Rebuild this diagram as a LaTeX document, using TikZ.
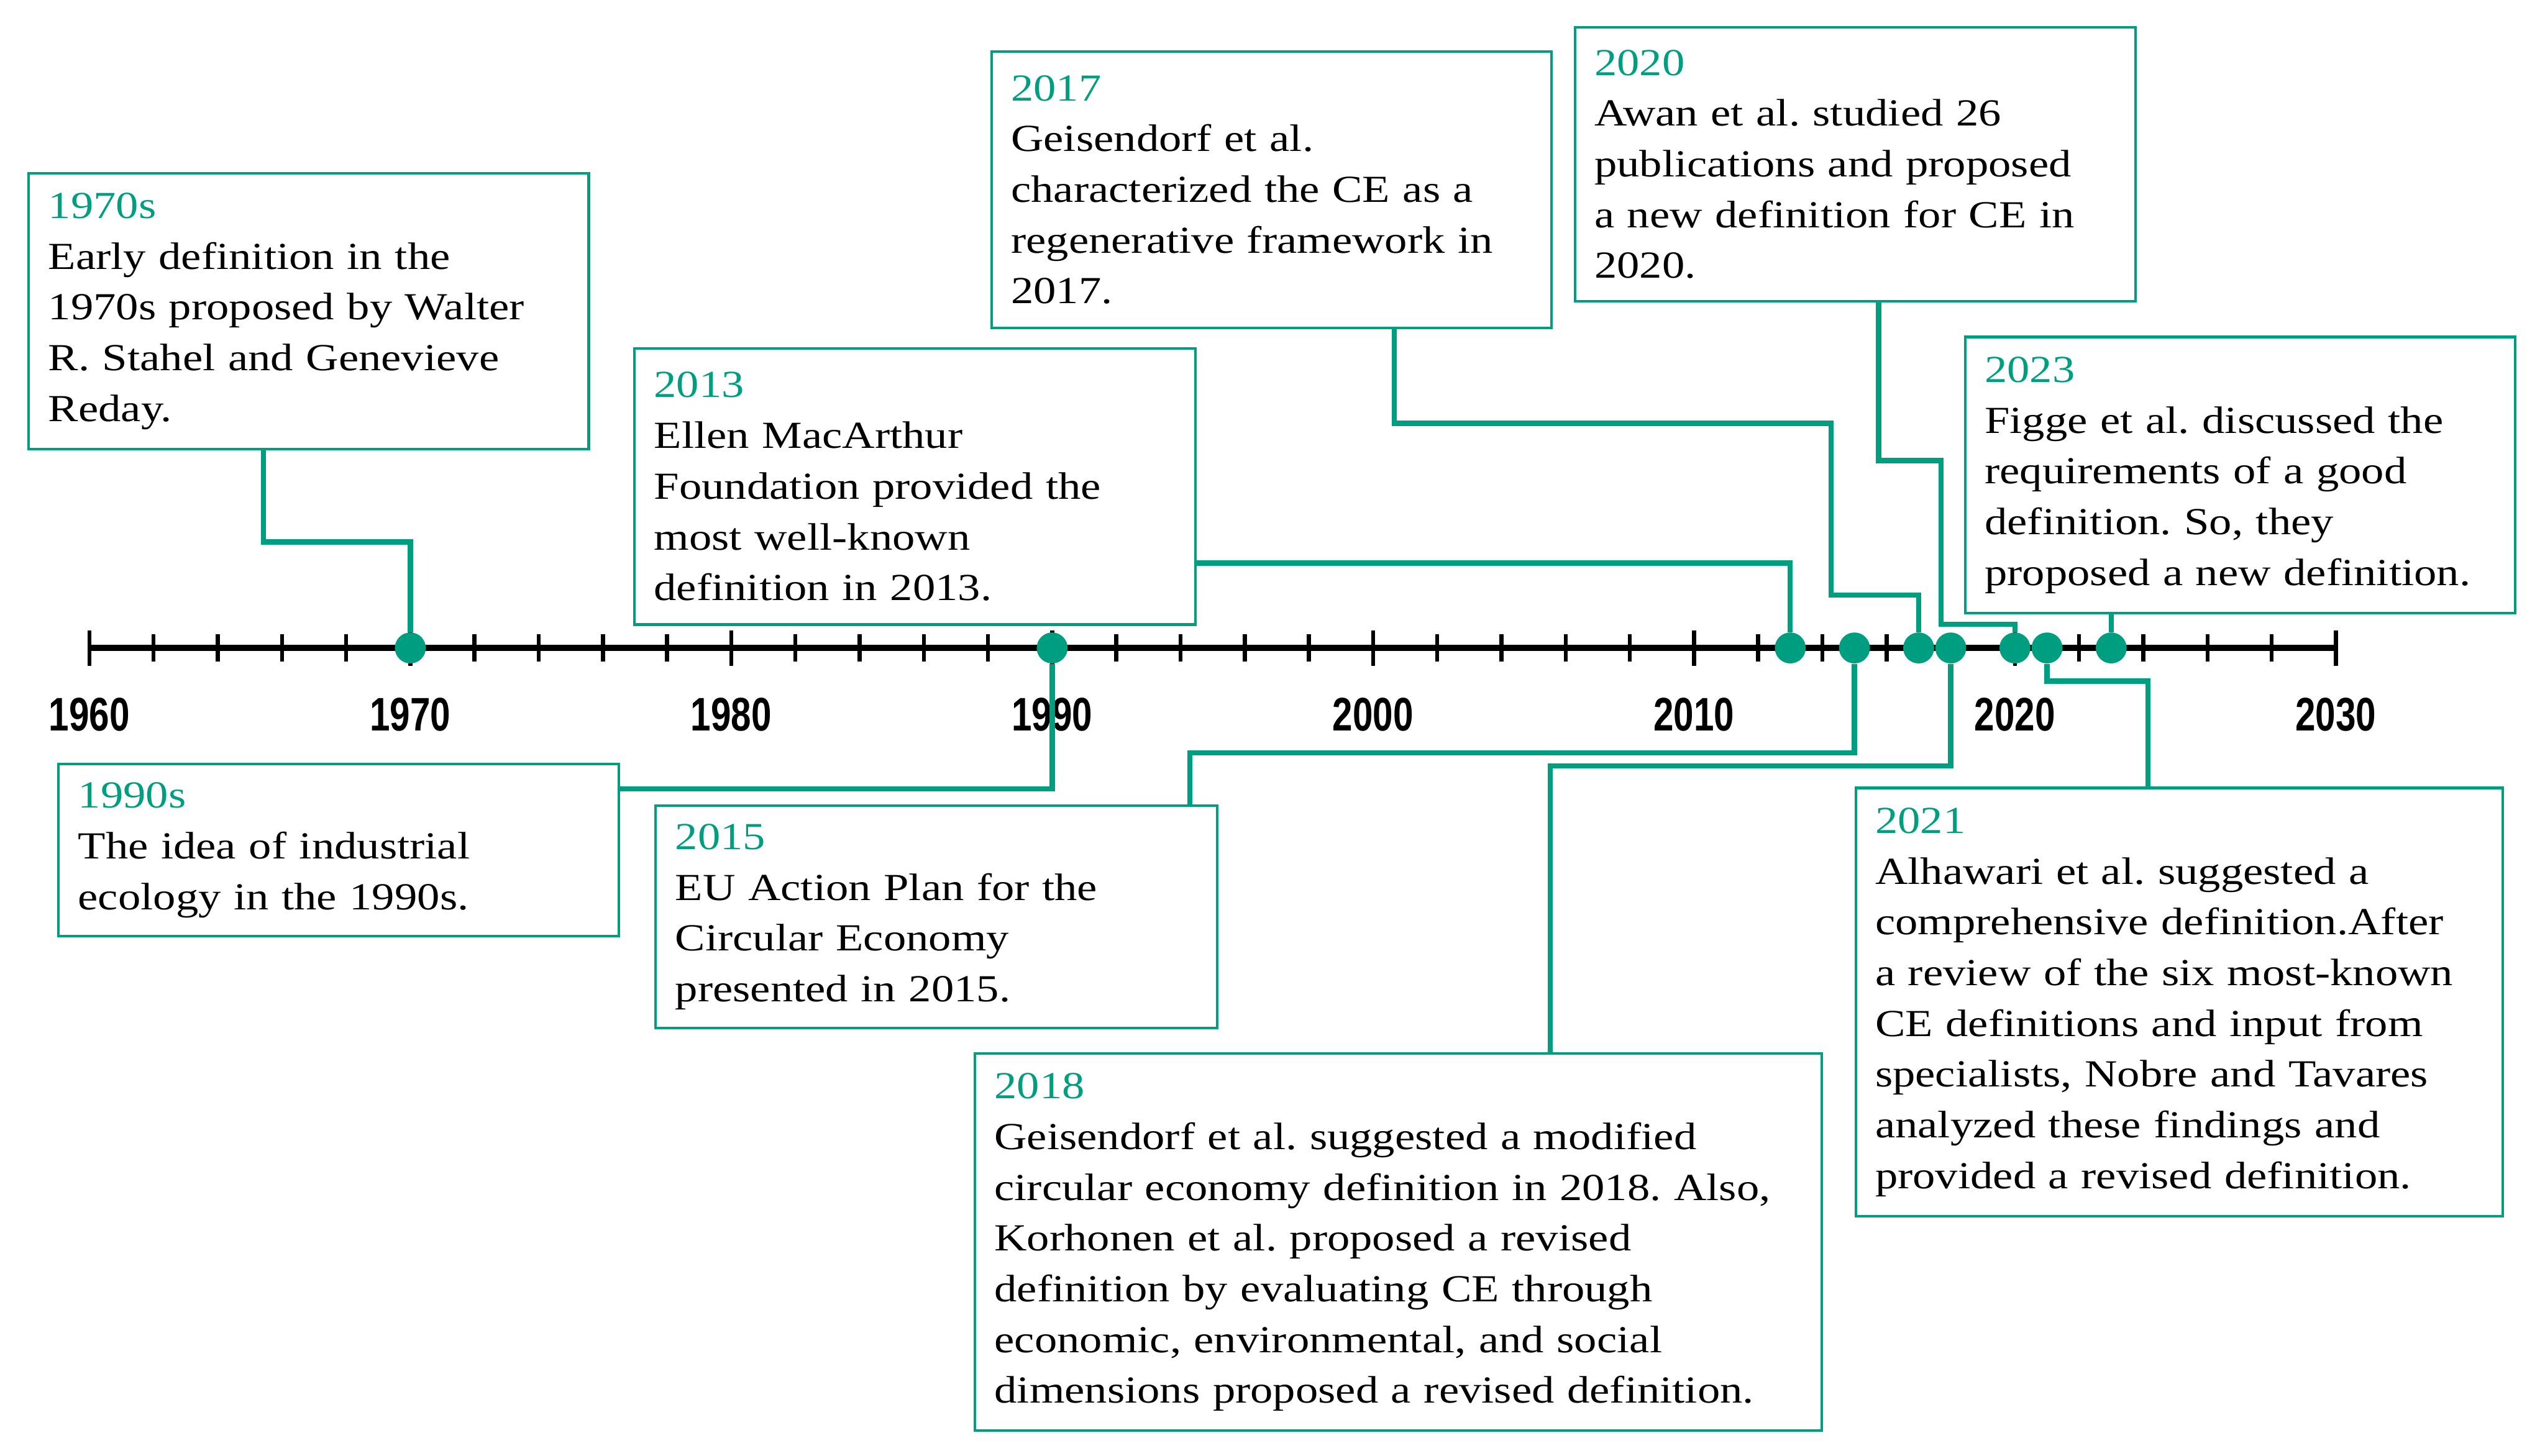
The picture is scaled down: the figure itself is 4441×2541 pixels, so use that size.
\documentclass[tikz,border=0pt]{standalone}
\usepackage{fontspec}
\setmainfont{Liberation Serif}[FakeStretch=1.18]
\newfontfamily\axisfont{Liberation Sans}[FakeStretch=0.77]
\definecolor{tealc}{RGB}{0,158,128}
\newcommand\yrtitle[1]{\textcolor{tealc}{#1}}
\frenchspacing
\begin{document}
\begin{tikzpicture}[x=0.1mm,y=-0.1mm,
  evbox/.style={draw=tealc, line width=0.45mm, fill=white, anchor=north west,
    inner xsep=3.4mm, inner ysep=0pt, align=left,
    font=\fontsize{19pt}{25.2pt}\selectfont\frenchspacing},
  conn/.style={draw=tealc, line width=0.9mm},
  dot/.style={circle, fill=tealc, minimum size=5.4mm, inner sep=0pt},
  yearlab/.style={font=\axisfont\bfseries\fontsize{23.4pt}{28pt}\selectfont, inner sep=0pt},
  axisline/.style={line width=1.1mm, black},
  tickmark/.style={line width=0.7mm, black}]
\fill[white] (0,0) rectangle (4441,2541);
\useasboundingbox (0,0) rectangle (4441,2541);

% axis
\draw[axisline] (156,1131) -- (4076,1131);
\foreach \i in {0,...,35}{
  \pgfmathtruncatemacro\r{mod(\i,5)}
  \ifnum\r=0
    \draw[tickmark] (156+\i*112,1100) -- ++(0,62);
  \else
    \draw[tickmark] (156+\i*112,1107) -- ++(0,48);
  \fi
}
\foreach \y [count=\k from 0] in {1960,1970,1980,1990,2000,2010,2020,2030}
  \node[yearlab] (l\y) at (156+\k*560,1247) {\y};

% dots
\foreach \y in {1970,1990,2013,2015,2017,2018,2020,2021,2023}{
  \pgfmathtruncatemacro\dx{156+(\y-1960)*56}
  \node[dot] (d\y) at (\dx,1131) {};
}

% boxes
\node[evbox, text width=90.9mm, minimum height=48.2mm] (b70) at (48,300)
  {\yrtitle{1970s}\\Early definition in the\\1970s proposed by Walter\\R. Stahel and Genevieve\\Reday.};
\node[evbox, text width=91.1mm, minimum height=48.2mm] (b13) at (1105,606)
  {\yrtitle{2013}\\Ellen MacArthur\\Foundation provided the\\most well-known\\definition in 2013.};
\node[evbox, text width=90.9mm, minimum height=48.2mm] (b17) at (1728,88)
  {\yrtitle{2017}\\Geisendorf et al.\\characterized the CE as a\\regenerative framework in\\2017.};
\node[evbox, text width=91.0mm, minimum height=47.9mm] (b20) at (2746,45)
  {\yrtitle{2020}\\Awan et al. studied 26\\publications and proposed\\a new definition for CE in\\2020.};
\node[evbox, text width=89.2mm, minimum height=48.2mm] (b23) at (3427,586)
  {\yrtitle{2023}\\Figge et al. discussed the\\requirements of a good\\definition. So, they\\proposed a new definition.};
\node[evbox, text width=91.0mm, minimum height=30.1mm] (b90) at (100,1331)
  {\yrtitle{1990s}\\The idea of industrial\\ecology in the 1990s.};
\node[evbox, text width=91.2mm, minimum height=38.8mm] (b15) at (1142,1404)
  {\yrtitle{2015}\\EU Action Plan for the\\Circular Economy\\presented in 2015.};
\node[evbox, text width=141.0mm, minimum height=65.8mm] (b18) at (1699,1837)
  {\yrtitle{2018}\\Geisendorf et al. suggested a modified\\circular economy definition in 2018. Also,\\Korhonen et al. proposed a revised\\definition by evaluating CE through\\economic, environmental, and social\\dimensions proposed a revised definition.};
\node[evbox, text width=106.1mm, minimum height=74.8mm] (b21) at (3236,1373)
  {\yrtitle{2021}\\Alhawari et al. suggested a\\comprehensive definition.After\\a review of the six most-known\\CE definitions and input from\\specialists, Nobre and Tavares\\analyzed these findings and\\provided a revised definition.};

% bend points
\coordinate (k70) at (460,946);
\coordinate (k13) at (0,983);
\coordinate (k17a) at (2433,739);
\coordinate (k17b) at (3195,1039);
\coordinate (k20a) at (3278,804);
\coordinate (k20b) at (3387,1090);
\coordinate (k90) at (0,1377);
\coordinate (k15) at (2076,1314);
\coordinate (k18) at (2705,1337);
\coordinate (k21) at (3748,1189);

% connectors
\draw[conn] (b70.south -| k70) -- (k70) -| (d1970);
\draw[conn] (b13.east |- k13) -| (d2013);
\draw[conn] (b17.south -| k17a) -- (k17a) -| (k17b) -| (d2017);
\draw[conn] (b20.south -| k20a) -- (k20a) -| (k20b) -| (d2020);
\draw[conn] (b23.south -| d2023) -- (d2023);
\draw[conn] (b90.east |- k90) -| (d1990);
\draw[conn] (b15.north -| k15) -- (k15) -| (d2015);
\draw[conn] (b18.north -| k18) -- (k18) -| (d2018);
\draw[conn] (b21.north -| k21) -- (k21) -| (d2021);
\end{tikzpicture}
\end{document}
